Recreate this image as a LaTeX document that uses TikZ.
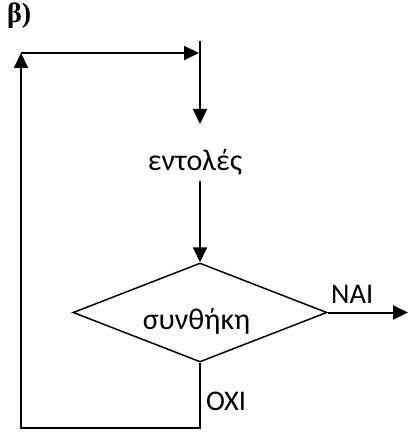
\documentclass[tikz,border=0pt]{standalone}
\usepackage{fontspec}
\setmainfont{Carlito}
\newfontfamily\capfont{Liberation Serif}
\usetikzlibrary{arrows.meta,shapes.geometric}
\begin{document}
\begin{tikzpicture}[x=1pt,y=-1pt,
  conn/.style={line width=2pt},
  arr/.style={conn,-{Triangle[length=15pt,width=14pt]}},
  txt/.style={inner sep=0pt,font=\fontsize{28.5}{33}\selectfont},
  gtxt/.style={inner sep=0pt,font=\fontsize{30}{34}\selectfont},
  dia/.style={draw,diamond,line width=1.5pt,minimum width=254pt,minimum height=99pt,inner sep=0pt}]
\useasboundingbox (0,0) rectangle (409,433);
\node[inner sep=0pt,anchor=south west,font=\capfont\bfseries\fontsize{28}{32}\selectfont] (lbl) at (7,29) {β)};
\coordinate (tl) at (21,53);
\coordinate (tr) at (199,53);
\coordinate (vtop) at (200,41);
\coordinate (vtip) at (200,124);
\node[gtxt] (ent) at (195,162) {εντολές};
\coordinate (e2) at (200,181);
\node[dia] (cond) at (200,312.5) {};
\node[gtxt] (condt) at (196.5,321) {συνθήκη};
\coordinate (yes) at (408,312.5);
\coordinate (bl) at (21,428);
\coordinate (br) at (200,428);
\node[txt,anchor=south west] (nai) at (331,304) {NAI};
\node[txt,anchor=south west] (oxi) at (206,411) {OXI};
\draw[arr] (cond.south) -- (br) -- (bl) -- (tl);
\draw[arr] (tl) -- (tr);
\draw[arr] (vtop) -- (vtip);
\draw[arr] (e2) -- (cond.north);
\draw[arr] (cond.east) -- (yes);
\end{tikzpicture}
\end{document}
